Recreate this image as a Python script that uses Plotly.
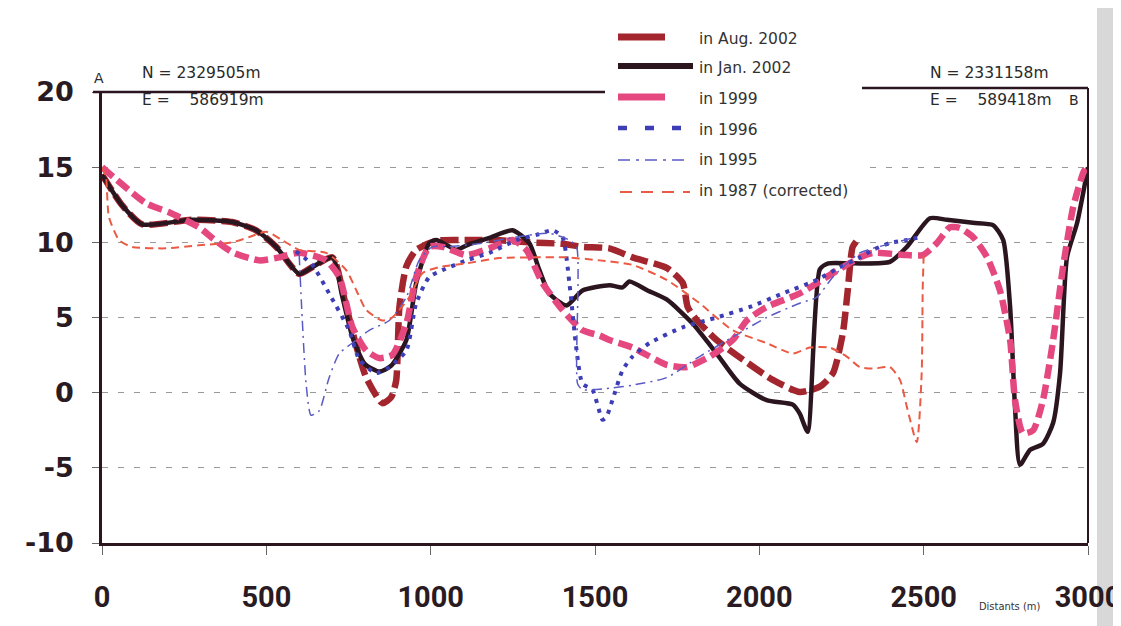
import plotly.graph_objects as go

# ---------------- data (distance in m, elevation in m) ----------------
aug2002_x = [0, 60, 122, 274, 396, 469, 530, 600, 640, 701, 740, 775, 804, 853, 880, 895, 905, 926, 956,
             1017, 1109, 1200, 1300, 1400, 1462, 1544, 1614, 1718, 1767, 1782, 1809, 1870, 1950, 2041,
             2123, 2184, 2224, 2254, 2269, 2284, 2300]
aug2002_y = [14.5, 12.5, 11.2, 11.5, 11.35, 10.8, 9.7, 7.9, 8.35, 9.0, 6.0, 3.0, 1.0, -0.7, -0.3, 0.8, 5.7,
             8.4, 9.5, 10.1, 10.15, 10.15, 10.0, 9.9, 9.7, 9.6, 9.0, 8.3, 7.3, 5.7, 4.85, 3.5, 2.2, 0.85,
             0.05, 0.4, 1.3, 3.95, 6.8, 9.7, 10.2]

jan2002_x = [0, 60, 122, 274, 396, 469, 530, 600, 640, 701, 730, 762, 800, 844, 880, 926, 956, 996, 1017,
             1050, 1078, 1120, 1179, 1249, 1300, 1330, 1361, 1413, 1462, 1544, 1584, 1605, 1660, 1718,
             1797, 1870, 1940, 2022, 2102, 2123, 2147, 2184, 2210, 2284, 2397, 2449, 2519, 2571, 2650,
             2711, 2742, 2763, 2778, 2793, 2824, 2863, 2894, 2915, 2936, 2967, 3000]
jan2002_y = [14.5, 12.5, 11.2, 11.5, 11.35, 10.8, 9.7, 7.9, 8.35, 9.0, 6.5, 3.7, 1.9, 1.4, 1.8, 3.5, 7.3,
             9.95, 10.15, 9.8, 9.5, 9.9, 10.3, 10.8, 9.95, 8.2, 6.6, 5.8, 6.8, 7.15, 7.0, 7.4, 6.8, 6.2,
             4.6, 2.6, 0.6, -0.5, -0.8, -1.4, -2.6, 8.2, 8.6, 8.6, 8.7, 9.7, 11.6, 11.5, 11.3, 11.15,
             10.15, 5.7, -1.0, -4.8, -3.8, -3.4, -2.0, 1.3, 9.0, 11.3, 15.0]

y1999_x = [0, 134, 204, 295, 335, 396, 478, 539, 600, 682, 722, 762, 804, 844, 883, 926, 956, 996, 1036,
           1109, 1179, 1249, 1291, 1340, 1401, 1462, 1514, 1544, 1614, 1718, 1779, 1849, 1919, 1962,
           2022, 2123, 2224, 2306, 2346, 2449, 2497, 2540, 2580, 2610, 2650, 2693, 2732, 2763, 2778,
           2802, 2833, 2863, 2894, 2924, 2955, 2985, 3000]
y1999_y = [15.0, 12.6, 12.0, 11.0, 10.3, 9.35, 8.8, 9.0, 9.3, 8.8, 7.7, 4.35, 2.8, 2.3, 2.5, 4.6, 7.7,
           9.7, 9.7, 9.15, 9.6, 10.15, 9.5, 7.3, 5.5, 4.15, 3.8, 3.5, 3.0, 1.85, 1.7, 2.4, 3.5, 4.8,
           5.7, 6.6, 7.95, 9.0, 9.3, 9.15, 9.15, 9.95, 11.0, 10.95, 10.35, 9.0, 6.8, 3.5, -0.5, -2.7,
           -2.5, -0.5, 3.5, 8.35, 12.35, 14.6, 15.2]

y1996_x = [590, 640, 691, 752, 783, 834, 874, 926, 956, 996, 1036, 1109, 1179, 1261, 1322, 1371, 1401,
           1422, 1444, 1462, 1492, 1523, 1535, 1553, 1584, 1614, 1666, 1767, 1870, 1971, 2071, 2175,
           2245, 2306, 2346, 2397, 2449, 2489]
y1996_y = [9.4, 8.5, 6.6, 4.15, 2.2, 1.3, 1.7, 2.8, 5.95, 7.7, 8.15, 8.8, 9.3, 10.15, 10.5, 10.8, 10.35,
           7.3, 2.8, 0.6, 0.2, -1.8, -1.6, -0.5, 1.5, 2.4, 3.3, 4.35, 5.0, 5.7, 6.6, 7.5, 8.35, 9.0,
           9.5, 9.95, 10.15, 10.35]

y1995_x = [600, 609, 621, 636, 661, 691, 722, 774, 813, 874, 926, 965, 1005, 1057, 1157, 1261, 1361,
           1422, 1444, 1447, 1462, 1544, 1614, 1718, 1818, 1919, 2022, 2123, 2175, 2224, 2306, 2397, 2470]
y1995_y = [9.15, 5.0, 0.6, -1.5, -1.2, 1.0, 2.6, 3.5, 4.15, 4.8, 6.35, 8.8, 9.7, 9.7, 9.95, 10.35, 10.6,
           10.15, 9.7, 0.6, 0.2, 0.3, 0.5, 1.0, 2.4, 3.7, 5.0, 5.95, 6.35, 7.7, 9.3, 9.9, 10.3]

y1987_x = [0, 12, 21, 52, 91, 195, 295, 396, 448, 500, 548, 600, 682, 743, 774, 804, 853, 883, 935, 975,
           1026, 1109, 1209, 1310, 1413, 1514, 1614, 1718, 1818, 1919, 2022, 2102, 2153, 2214, 2266,
           2306, 2346, 2397, 2428, 2449, 2479, 2494, 2497, 2500]
y1987_y = [15.0, 14.35, 11.7, 10.15, 9.7, 9.6, 9.8, 10.0, 10.35, 10.7, 10.15, 9.5, 9.3, 8.15, 6.8, 5.5,
           4.8, 5.0, 6.35, 7.95, 8.35, 8.6, 8.95, 9.0, 9.0, 8.8, 8.5, 7.5, 5.95, 4.15, 3.3, 2.6, 3.0,
           3.0, 2.4, 1.7, 1.6, 1.7, 0.85, -0.95, -3.3, 1.3, 6.8, 9.15]

series_names = ["in Aug. 2002", "in Jan. 2002", "in 1999", "in 1996", "in 1995", "in 1987 (corrected)"]
x_ticks = [0, 500, 1000, 1500, 2000, 2500, 3000]
x_tick_labels = ["0", "500", "1000", "1500", "2000", "2500", "3000"]
y_ticks = [-10, -5, 0, 5, 10, 15, 20]
y_tick_labels = ["-10", "-5", "0", "5", "10", "15", "20"]

# ---------------- styles ----------------
C_AUG = "#a3262e"
C_JAN = "#2b1620"
C_99 = "#e5487f"
C_96 = "#3d3db5"
C_95 = "#5a5ac4"
C_87 = "#ea5a44"

styles = [
    (aug2002_x, aug2002_y, C_AUG, 6.5, "18px,6px"),
    (jan2002_x, jan2002_y, C_JAN, 4.5, "solid"),
    (y1999_x, y1999_y, C_99, 6.5, "14px,6px"),
    (y1996_x, y1996_y, C_96, 4.0, "4px,6px"),
    (y1995_x, y1995_y, C_95, 1.5, "10px,5px,2px,5px"),
    (y1987_x, y1987_y, C_87, 2.0, "8px,5px"),
]

fig = go.Figure()
for (xs, ys, col, w, dash), name in zip(styles, series_names):
    fig.add_trace(go.Scatter(
        x=xs, y=ys, mode="lines", name=name,
        line=dict(color=col, width=w, dash=dash, shape="spline", smoothing=0.6),
        showlegend=False, hoverinfo="skip"))

# The page places the figure 8px from the top-left corner (browser body margin),
# so the figure itself is 8px smaller and all page-pixel positions are shifted.
OFF = 8
W, H = 1121 - OFF, 626 - OFF
L, R, T, B = 102, 1088, 92, 543          # plot area in page pixels
def px(xp):
    return (xp - L) / (R - L)
def py(yp):
    return (B - yp) / (B - T)

shapes = []
# scanner shadow on the right
shapes.append(dict(type="rect", xref="paper", yref="paper", x0=px(1097), x1=px(1130), y0=py(640), y1=py(-10),
                   fillcolor="#d8d8d8", line=dict(width=0), layer="below"))
# top frame line (broken by legend) and right frame line
shapes.append(dict(type="line", xref="paper", yref="paper", x0=px(93), x1=px(612), y0=1, y1=1,
                   line=dict(color=C_JAN, width=2.5), layer="above"))
shapes.append(dict(type="line", xref="paper", yref="paper", x0=px(862), x1=1, y0=py(88), y1=py(88),
                   line=dict(color=C_JAN, width=2.5), layer="above"))
shapes.append(dict(type="line", xref="paper", yref="paper", x0=1, x1=1, y0=0, y1=py(88),
                   line=dict(color=C_JAN, width=2), layer="above"))
# legend background
shapes.append(dict(type="rect", xref="paper", yref="paper", x0=px(605), x1=px(862), y0=py(205), y1=py(22),
                   fillcolor="white", line=dict(width=0), layer="above"))

leg_samples = [
    (618, 665, 37, C_AUG, 7, "solid"),
    (618, 693, 66, C_JAN, 6, "solid"),
    (618, 665, 97, C_99, 7, "solid"),
    (618, 684, 128, C_96, 4.5, "9px,18px"),
    (618, 690, 160, C_95, 1.5, "12px,6px,3px,6px"),
    (620, 690, 192, C_87, 2, "12px,9px"),
]
leg_text_y = [39, 68, 99, 130, 160, 191]
annotations = []
for (x0, x1, yy, col, w, dash), name, ty in zip(leg_samples, series_names, leg_text_y):
    shapes.append(dict(type="line", xref="paper", yref="paper", x0=px(x0), x1=px(x1), y0=py(yy), y1=py(yy),
                       line=dict(color=col, width=w, dash=dash), layer="above"))
    annotations.append(dict(xref="paper", yref="paper", x=px(697), y=py(ty), text=name, showarrow=False,
                            xanchor="left", yanchor="middle",
                            font=dict(family="DejaVu Sans", size=15.5, color="#333")))

for xx, yy, t, fs in [(140, 73, "N = 2329505m", 15.5), (140, 100, "E =    586919m", 15.5),
                      (928, 73, "N = 2331158m", 15.5), (928, 100, "E =    589418m", 15.5),
                      (92, 78, "A", 14), (1067, 100, "B", 14)]:
    annotations.append(dict(xref="paper", yref="paper", x=px(xx), y=py(yy), text=t, showarrow=False,
                            xanchor="left", yanchor="middle",
                            font=dict(family="DejaVu Sans", size=fs, color="#2a2a2a")))
annotations.append(dict(xref="paper", yref="paper", x=px(977), y=py(606), text="Distants (m)", showarrow=False,
                        xanchor="left", yanchor="middle",
                        font=dict(family="DejaVu Sans Condensed, Roboto, DejaVu Sans", size=11, color="#333")))

fig.update_layout(
    width=W, height=H, autosize=False,
    margin=dict(l=L - OFF, r=W - (R - OFF), t=T - OFF, b=H - (B - OFF), autoexpand=False),
    paper_bgcolor="white", plot_bgcolor="white",
    shapes=shapes, annotations=annotations,
    xaxis=dict(range=[0, 3000], tickvals=x_ticks, ticktext=x_tick_labels, showgrid=False, zeroline=False,
               automargin=False, ticklabeloverflow="allow",
               showline=True, linecolor=C_JAN, linewidth=2.5,
               ticks="outside", ticklen=9, tickcolor="#666", tickwidth=1,
               ticklabelstandoff=17,
               tickfont=dict(family="Roboto", size=29, color="#2a1a22", weight="bold")),
    yaxis=dict(range=[-10, 20], tickvals=y_ticks, ticktext=y_tick_labels, showgrid=True, gridcolor="#9a9a9a",
               gridwidth=1.2, griddash="6px,10px", zeroline=False, automargin=False,
               showline=True, linecolor=C_JAN, linewidth=2.5,
               ticks="outside", ticklen=7, tickcolor="#666", tickwidth=1,
               ticklabelstandoff=13,
               tickfont=dict(family="DejaVu Sans", size=27, color="#2a1a22", weight="bold")),
)

fig.write_html("out.html")
